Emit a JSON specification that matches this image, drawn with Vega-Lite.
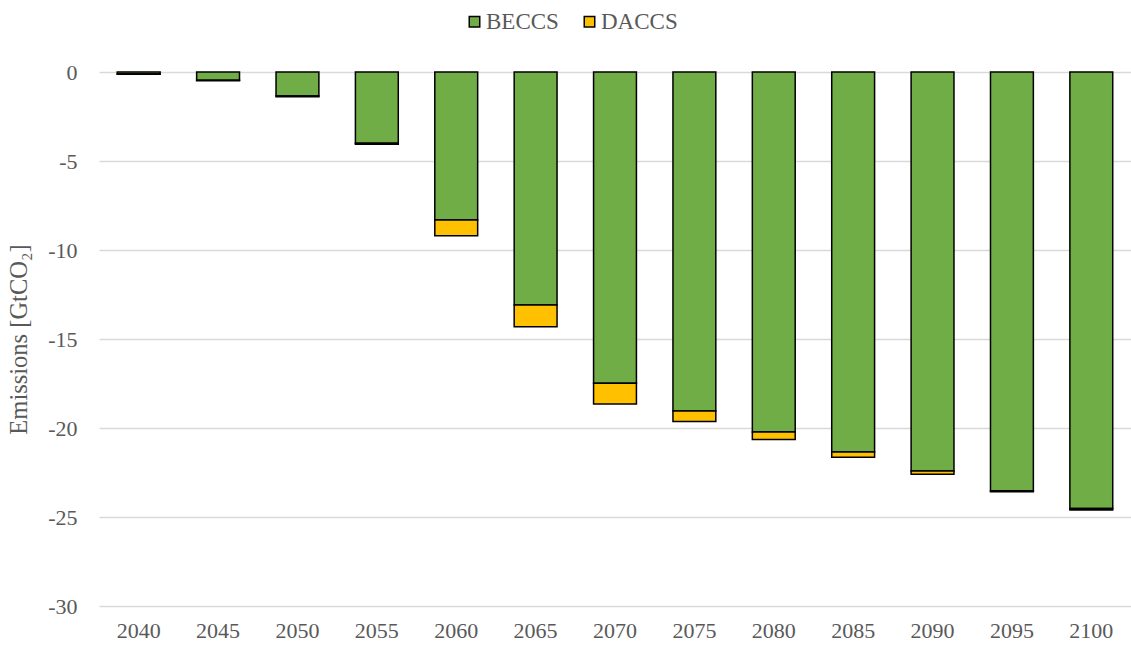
{
  "$schema": "https://vega.github.io/schema/vega-lite/v6.json",
  "autosize": "none",
  "width": 1032,
  "height": 534,
  "padding": {"left": 99, "top": 72, "right": 0, "bottom": 45},
  "background": "white",
  "data": {
    "values": [
      {"year": "2040", "tech": "BECCS", "value": -0.11},
      {"year": "2040", "tech": "DACCS", "value": -0.02},
      {"year": "2045", "tech": "BECCS", "value": -0.46},
      {"year": "2045", "tech": "DACCS", "value": -0.03},
      {"year": "2050", "tech": "BECCS", "value": -1.35},
      {"year": "2050", "tech": "DACCS", "value": -0.04},
      {"year": "2055", "tech": "BECCS", "value": -4.0},
      {"year": "2055", "tech": "DACCS", "value": -0.06},
      {"year": "2060", "tech": "BECCS", "value": -8.31},
      {"year": "2060", "tech": "DACCS", "value": -0.89},
      {"year": "2065", "tech": "BECCS", "value": -13.09},
      {"year": "2065", "tech": "DACCS", "value": -1.22},
      {"year": "2070", "tech": "BECCS", "value": -17.49},
      {"year": "2070", "tech": "DACCS", "value": -1.16},
      {"year": "2075", "tech": "BECCS", "value": -19.04},
      {"year": "2075", "tech": "DACCS", "value": -0.6},
      {"year": "2080", "tech": "BECCS", "value": -20.22},
      {"year": "2080", "tech": "DACCS", "value": -0.42},
      {"year": "2085", "tech": "BECCS", "value": -21.35},
      {"year": "2085", "tech": "DACCS", "value": -0.3},
      {"year": "2090", "tech": "BECCS", "value": -22.42},
      {"year": "2090", "tech": "DACCS", "value": -0.18},
      {"year": "2095", "tech": "BECCS", "value": -23.53},
      {"year": "2095", "tech": "DACCS", "value": -0.05},
      {"year": "2100", "tech": "BECCS", "value": -24.52},
      {"year": "2100", "tech": "DACCS", "value": -0.08}
    ]
  },
  "mark": {"type": "bar", "stroke": "black", "strokeWidth": 1.5},
  "encoding": {
    "x": {
      "field": "year",
      "type": "ordinal",
      "scale": {"paddingInner": 0.46, "paddingOuter": 0.23},
      "axis": {
        "title": null,
        "labelAngle": 0,
        "ticks": false,
        "domain": false,
        "labelPadding": 14,
        "labelFont": "Liberation Serif",
        "labelFontSize": 22,
        "labelColor": "#595959"
      }
    },
    "y": {
      "field": "value",
      "type": "quantitative",
      "stack": "zero",
      "scale": {"domain": [-30, 0], "nice": false},
      "axis": {
        "title": "Emissions [GtCO₂]",
        "titleFont": "Liberation Serif",
        "titleFontSize": 24.5,
        "titleFontWeight": "normal",
        "titleColor": "#595959",
        "titlePadding": 16,
        "values": [0, -5, -10, -15, -20, -25, -30],
        "labelExpr": "toString(datum.value)",
        "ticks": false,
        "domain": false,
        "labelPadding": 22,
        "labelFont": "Liberation Serif",
        "labelFontSize": 22,
        "labelColor": "#595959",
        "gridColor": "#d9d9d9",
        "gridWidth": 1.5
      }
    },
    "color": {
      "field": "tech",
      "type": "nominal",
      "scale": {"domain": ["BECCS", "DACCS"], "range": ["#70ad47", "#ffc000"]},
      "legend": {
        "title": null,
        "orient": "none",
        "direction": "horizontal",
        "legendX": 364,
        "legendY": -62,
        "symbolType": "square",
        "symbolSize": 110,
        "symbolStrokeColor": "black",
        "symbolStrokeWidth": 1.5,
        "symbolOpacity": 1,
        "labelFont": "Liberation Serif",
        "labelFontSize": 23,
        "labelColor": "#595959",
        "labelOffset": 0,
        "columnPadding": 19
      }
    },
    "order": {"field": "tech", "sort": "ascending"}
  },
  "config": {"view": {"stroke": null}}
}
